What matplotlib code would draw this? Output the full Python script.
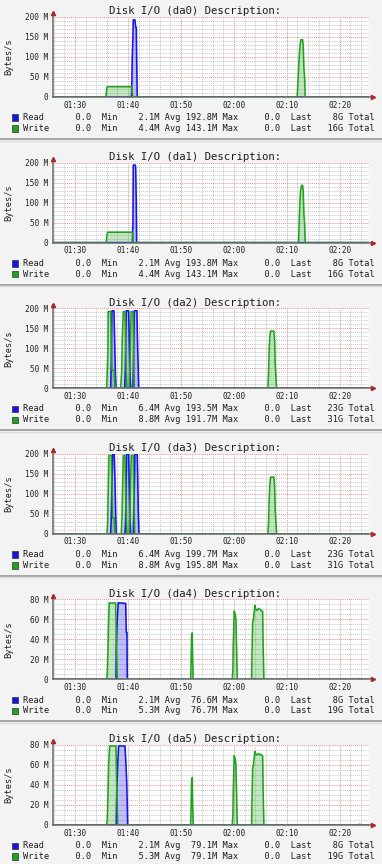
import matplotlib
matplotlib.use("Agg")
import matplotlib.pyplot as plt
from matplotlib.patches import Rectangle
from matplotlib.lines import Line2D

W, H = 382, 864
MONO = "DejaVu Sans Mono"

# time axis in minutes after midnight
XMIN, XMAX = 85.85, 145.5
xticks = [90, 100, 110, 120, 130, 140]
xtick_labels = ["01:30", "01:40", "01:50", "02:00", "02:10", "02:20"]

disks = ["da0", "da1", "da2", "da3", "da4", "da5"]
ymax = [200, 200, 200, 200, 80, 80]
ymajor = [50, 50, 50, 50, 20, 20]
yminor = [10, 10, 10, 10, 5, 5]

read_avg = ["2.1M", "2.1M", "6.4M", "6.4M", "2.1M", "2.1M"]
read_max = ["192.8M", "193.8M", "193.5M", "199.7M", "76.6M", "79.1M"]
read_total = ["8G", "8G", "23G", "23G", "8G", "8G"]
write_avg = ["4.4M", "4.4M", "8.8M", "8.8M", "5.3M", "5.3M"]
write_max = ["143.1M", "143.1M", "191.7M", "195.8M", "76.7M", "79.1M"]
write_total = ["16G", "16G", "31G", "31G", "19G", "19G"]

# series (MB/s)
da0_read_t = [100.66, 100.74, 100.81, 100.94, 101.00, 101.32, 101.45, 101.57, 101.64, 101.75]
da0_read_v = [0, 40, 97, 150, 192.8, 192.8, 174, 174, 100, 0]
da0_write_t = [95.85, 95.98, 96.09, 100.70, 100.75, 100.94,
               131.94, 132.02, 132.13, 132.32, 132.51, 132.64, 132.96, 133.08, 133.21, 133.34, 133.45]
da0_write_v = [0, 20, 25.8, 25.8, 12, 0,
               0, 20, 50, 100, 130, 143.1, 143.1, 130, 72, 50, 0]

da1_read_t = [100.85, 100.89, 100.94, 101.00, 101.38, 101.45, 101.57, 101.64]
da1_read_v = [0, 36, 36, 193.8, 193.8, 188, 100, 0]
da1_write_t = [95.91, 96.04, 96.17, 100.89, 100.94, 101.00,
               132.21, 132.32, 132.45, 132.58, 132.77, 132.96, 133.08, 133.21, 133.34, 133.45]
da1_write_v = [0, 20, 26, 26, 10, 0,
               0, 50, 100, 130, 143.1, 143.1, 130, 70, 50, 0]

da2_read_t = [96.74, 96.85, 96.98, 97.36, 97.49, 97.60, 97.74,
              99.38, 99.49, 99.62, 99.68, 100.13, 100.25, 100.38, 100.51,
              100.94, 101.08, 101.19, 101.70, 101.75, 101.83, 101.94, 102.02]
da2_read_v = [0, 60, 193.5, 193.5, 120, 50, 0,
              0, 40, 150, 193.5, 193.5, 120, 40, 0,
              0, 100, 193.5, 193.5, 150, 100, 50, 0]
da2_write_t = [95.98, 96.09, 96.23, 96.28, 96.74, 96.85, 96.98, 97.42, 97.55,
               98.62, 98.81, 98.92, 99.11, 99.43, 99.57, 99.68, 99.81,
               100.25, 100.38, 100.51, 100.60, 100.94, 101.08, 101.19,
               126.42, 126.55, 126.66, 126.79, 126.92, 127.55, 127.68, 127.79, 127.92, 128.06]
da2_write_v = [0, 40, 100, 191.7, 191.7, 120, 45, 45, 0,
               0, 40, 120, 191.7, 191.7, 100, 40, 0,
               0, 60, 140, 191.7, 191.7, 80, 0,
               0, 40, 100, 130, 143, 143, 120, 60, 30, 0]

da3_read_t = [96.74, 96.85, 96.98, 97.11, 97.42, 97.55, 97.68, 97.79,
              99.43, 99.57, 99.68, 99.75, 100.13, 100.25, 100.38, 100.51,
              101.00, 101.13, 101.26, 101.32, 101.75, 101.83, 101.94, 102.08]
da3_read_v = [0, 40, 120, 199.7, 199.7, 130, 50, 0,
              0, 40, 150, 199.7, 199.7, 120, 40, 0,
              0, 80, 150, 199.7, 199.7, 150, 60, 0]
da3_write_t = [96.04, 96.17, 96.28, 96.42, 96.85, 96.98, 97.11, 97.42, 97.55,
               98.74, 98.87, 99.00, 99.11, 99.43, 99.57, 99.68, 99.81,
               100.25, 100.38, 100.51, 100.62, 101.00, 101.13, 101.26,
               126.42, 126.55, 126.66, 126.79, 126.92, 127.55, 127.68, 127.79, 127.92, 128.06]
da3_write_v = [0, 30, 110, 195.8, 195.8, 130, 40, 40, 0,
               0, 40, 120, 195.8, 195.8, 100, 40, 0,
               0, 60, 140, 195.8, 195.8, 80, 0,
               0, 30, 90, 125, 141.7, 141.7, 120, 60, 30, 0]

da4_read_t = [97.74, 97.79, 97.98, 98.17, 99.57, 99.68, 99.81, 99.87]
da4_read_v = [0, 32, 60, 76.6, 76.0, 47, 47, 0]
da4_write_t = [95.98, 96.09, 96.23, 96.36, 96.47, 96.98, 97.68, 97.79, 97.98,
               111.83, 111.89, 112.02, 112.13, 112.21, 112.32,
               119.68, 119.81, 119.87, 120.06, 120.25, 120.38, 120.51, 120.62,
               123.34, 123.40, 123.53, 123.72, 123.96, 124.15, 124.40, 124.66, 124.91,
               125.15, 125.42, 125.53, 125.66,
               143.72, 143.77, 143.83]
da4_write_v = [0, 5, 30, 60, 76.7, 76.3, 76.5, 40, 0,
               0, 10, 44, 46.5, 20, 0,
               0, 10, 32, 68.4, 65, 60, 30, 0,
               0, 20, 56, 62, 74, 70, 69, 71, 70,
               69, 68, 30, 0,
               0, 1.0, 0]

da5_read_t = [97.79, 97.87, 98.06, 98.25, 99.43, 99.57, 99.75, 99.87, 99.94]
da5_read_v = [0, 32, 60, 79.1, 79.0, 66, 45, 20, 0]
da5_write_t = [95.98, 96.09, 96.23, 96.36, 96.55, 97.74, 97.87, 98.06,
               111.83, 111.89, 112.02, 112.13, 112.21, 112.32,
               119.68, 119.81, 119.87, 120.06, 120.25, 120.38, 120.51, 120.62,
               123.34, 123.40, 123.53, 123.72, 123.96, 124.15, 124.40, 124.66, 124.91,
               125.15, 125.42, 125.53, 125.66,
               143.72, 143.77, 143.83]
da5_write_v = [0, 5, 30, 60, 79.1, 79.0, 40, 0,
               0, 10, 45, 47.4, 20, 0,
               0, 10, 32, 69.2, 66, 60, 30, 0,
               0, 20, 56, 62, 73.6, 71, 70, 71.5, 70,
               70.5, 69, 30, 0,
               0, 1.0, 0]

reads = [(da0_read_t, da0_read_v), (da1_read_t, da1_read_v), (da2_read_t, da2_read_v),
         (da3_read_t, da3_read_v), (da4_read_t, da4_read_v), (da5_read_t, da5_read_v)]
writes = [(da0_write_t, da0_write_v), (da1_write_t, da1_write_v), (da2_write_t, da2_write_v),
          (da3_write_t, da3_write_v), (da4_write_t, da4_write_v), (da5_write_t, da5_write_v)]

READ = "#1414e6"
WRITE = "#1fa31f"
TXT = "#1e1e1e"
PANEL = 145.6


def fy(y):
    return 1 - y / H


def draw_series(ax, t, v, color):
    tt = [XMIN] + t + [XMAX]
    vv = [0] + v + [0]
    ax.fill_between(tt, vv, color=color, alpha=0.27, lw=0, zorder=2)
    ax.plot(tt, vv, color=color, lw=1.15, zorder=3)


def legend_row(name, avg, mx, total):
    return f"{name:<6}{'0.0':>7}  Min{avg:>8} Avg{mx:>7} Max{'0.0':>8}  Last{total:>6} Total"


fig = plt.figure(figsize=(W / 100, H / 100), dpi=100)
fig.patch.set_facecolor("#f3f3f3")

for k, disk in enumerate(disks):
    oy = PANEL * k

    # panel separator
    fig.add_artist(Line2D([0, 1], [fy(oy + 139), fy(oy + 139)], color="#a4a4a4", lw=1.4))
    fig.add_artist(Line2D([0, 1], [fy(oy + 140.5), fy(oy + 140.5)], color="#dcdcdc", lw=1.0))

    ax = fig.add_axes([53 / W, fy(oy + 97), (369 - 53) / W, 80 / H])
    ax.set_facecolor("white")
    ax.set_xlim(XMIN, XMAX)
    ax.set_ylim(0, ymax[k])
    for s in ax.spines.values():
        s.set_visible(False)

    ax.set_xticks(xticks)
    ax.set_xticks([m for m in range(86, 146, 2) if m % 10 != 0], minor=True)
    ax.set_xticklabels(xtick_labels, family=MONO, fontsize=5.6, color=TXT)
    yt = list(range(0, ymax[k] + 1, ymajor[k]))
    ax.set_yticks(yt)
    ax.set_yticks([v for v in range(0, ymax[k] + 1, yminor[k]) if v % ymajor[k] != 0], minor=True)
    ax.set_yticklabels([("%d M" % v) if v else "0" for v in yt], family=MONO, fontsize=5.6, color=TXT)
    ax.tick_params(which="both", length=0)
    ax.tick_params(axis="x", pad=2.6)
    ax.tick_params(axis="y", pad=3.6)
    ax.set_axisbelow(True)
    ax.grid(which="minor", color="#c6c6c6", lw=0.7, ls=(0, (1, 1)))
    ax.grid(which="major", color="#e89090", lw=0.7, ls=(0, (1, 1)))

    draw_series(ax, reads[k][0], reads[k][1], READ)
    draw_series(ax, writes[k][0], writes[k][1], WRITE)

    # axes with arrows
    ax.plot([0, 1.012], [0, 0], transform=ax.transAxes, clip_on=False, color="#6a6a6a", lw=1.1, zorder=5)
    ax.plot([0, 0], [0, 1.045], transform=ax.transAxes, clip_on=False, color="#6a6a6a", lw=1.1, zorder=5)
    ax.plot([1.012], [0], marker=">", ms=3, color="#a52a2a", transform=ax.transAxes, clip_on=False, zorder=6)
    ax.plot([0], [1.045], marker="^", ms=3, color="#a52a2a", transform=ax.transAxes, clip_on=False, zorder=6)

    fig.text(195 / W, fy(oy + 11.5), f"Disk I/O ({disk}) Description:", ha="center", va="center",
             family=MONO, fontsize=7.65, color=TXT)
    fig.text(8.5 / W, fy(oy + 57), "Bytes/s", rotation=90, ha="center", va="center",
             family=MONO, fontsize=6.2, color=TXT)

    rows = [("Read", read_avg[k], read_max[k], read_total[k], READ, 117.7),
            ("Write", write_avg[k], write_max[k], write_total[k], WRITE, 128.5)]
    for name, avg, mx, tot, col, ry in rows:
        fig.patches.append(Rectangle((11.7 / W, fy(oy + ry + 3.2)), 5.8 / W, 6.4 / H,
                                     transform=fig.transFigure, facecolor=col,
                                     edgecolor="#303030", lw=0.5))
        fig.text(23 / W, fy(oy + ry), legend_row(name, avg, mx, tot), ha="left", va="center",
                 family=MONO, fontsize=6.22, color=TXT)

fig.savefig("out.png", dpi=100, facecolor=fig.get_facecolor())
